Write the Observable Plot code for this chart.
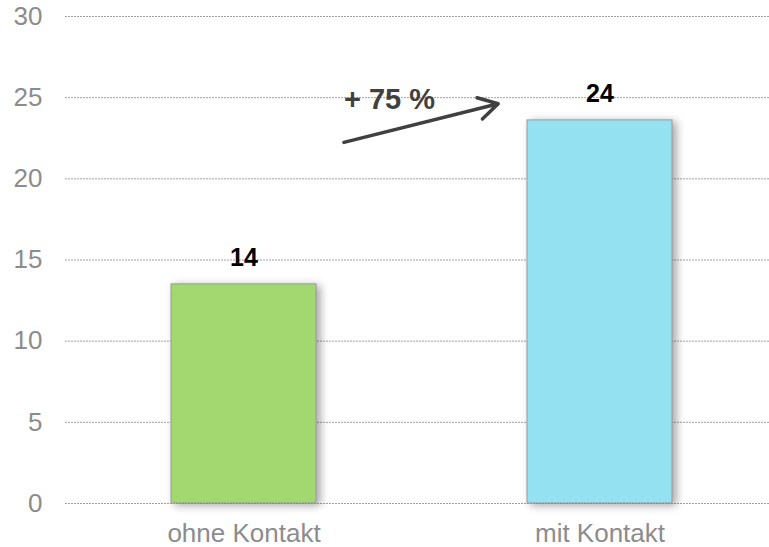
<!DOCTYPE html>
<html><head><meta charset="utf-8">
<script src="https://cdn.jsdelivr.net/npm/d3@7"></script>
<script src="https://cdn.jsdelivr.net/npm/@observablehq/plot@0.6"></script>
<style>body{margin:0;background:#fff}</style>
</head><body><div id="chart"></div>
<script>
// Data
const categories = ["ohne Kontakt", "mit Kontakt"];
const values = [13.5, 23.6];
const valueLabels = ["14", "24"];
const barColors = ["#a3d870", "#94e2f1"];
const yTicks = [0, 5, 10, 15, 20, 25, 30];
// Annotation (arrow between bars, in data units of y)
const changeLabel = ["+ 75 %"];
const arrowFromY = [20.7];
const arrowToY = [26.2];

const rows = categories.map((c, i) => ({cat: c, value: values[i], label: valueLabels[i], color: barColors[i]}));
const font = "'Liberation Sans', Arial, Helvetica, sans-serif";

const chart = Plot.plot({
  width: 769,
  height: 547,
  marginLeft: 65,
  marginRight: 0,
  marginTop: 16,
  marginBottom: 44,
  style: {fontFamily: font, fontSize: "26px", color: "#8c8c8c", background: "#fff"},
  x: {type: "band", domain: categories, range: [64.5, 779], paddingInner: 0.594, paddingOuter: 0.3, tickSize: 0, tickPadding: 20, label: null},
  y: {domain: [0, 30], ticks: yTicks, tickSize: 0, tickPadding: 23, label: null},
  marks: [
    Plot.ruleY(yTicks, {y: d => d, stroke: "#a0a0a0", strokeWidth: 1, strokeDasharray: "2,1"}),
    Plot.barY(rows, {x: "cat", y: "value", fill: "color", stroke: "#9a9a9a", strokeWidth: 1}),
    Plot.text(rows, {x: "cat", y: "value", text: "label", fill: "#000", fontWeight: "bold", fontSize: 25, dy: -26}),
    Plot.arrow([0], {
      x1: () => categories[0], x2: () => categories[1],
      y1: i => arrowFromY[i], y2: i => arrowToY[i],
      stroke: "#404040", strokeWidth: 3.5, headLength: 9.4, headAngle: 60,
      insetStart: 103, insetEnd: 105
    }),
    Plot.text(changeLabel, {x: () => categories[0], y: () => 25, text: d => d, textAnchor: "start", dx: 100, dy: 2, fill: "#404040", fontWeight: "bold", fontSize: 29})
  ]
});

chart.querySelectorAll('g[aria-label="bar"]').forEach(g => {
  g.style.filter = "drop-shadow(4px 2px 4px rgba(0,0,0,0.35))";
});
document.getElementById("chart").appendChild(chart);
</script>
</body></html>
